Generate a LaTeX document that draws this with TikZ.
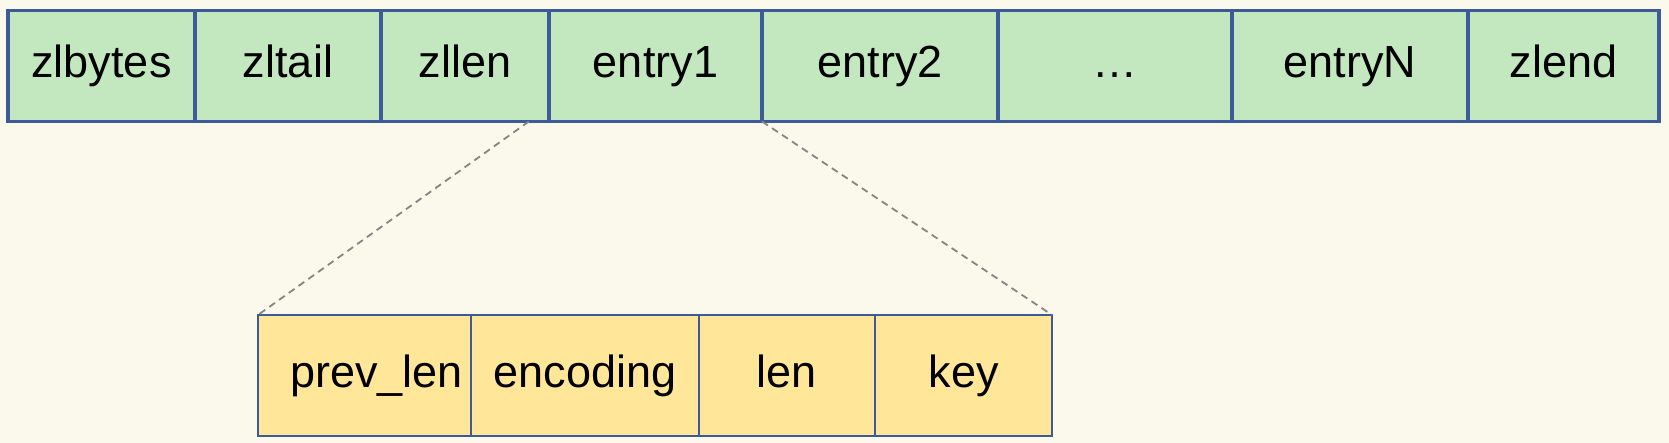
\documentclass[tikz,border=0pt]{standalone}
\usepackage{fontspec}
\setmainfont{Liberation Sans}
\usetikzlibrary{positioning,calc}
\definecolor{bgcream}{HTML}{FBF8EC}
\definecolor{cellgreen}{HTML}{C3E8BF}
\definecolor{cellyellow}{HTML}{FFE699}
\definecolor{cellblue}{HTML}{3D5A99}
\definecolor{zoomgray}{HTML}{858585}

\begin{document}
\begin{tikzpicture}[x=1pt,y=1pt,
every node/.style={rectangle,inner sep=0pt,outer sep=0pt,
  text height=16pt,text depth=4pt,font=\fontsize{22.5}{27}\selectfont},
cell/.style={draw=cellblue,line width=1.8pt,fill=cellgreen,minimum height=55.5pt},
subcell/.style={draw=cellblue,line width=0.9pt,fill=cellyellow,minimum height=60.5pt},
zoomline/.style={draw=zoomgray,line width=0.9pt,dash pattern=on 3.5pt off 2.5pt}]

\fill[bgcream] (0,0) rectangle (834.5,221.5);
\useasboundingbox (0,0) rectangle (834.5,221.5);

% ziplist header, entries and end marker
\node[cell,minimum width=93.5pt,anchor=north west] (zlbytes) at (4,216.25) {zlbytes};
\node[cell,minimum width=93pt,right=0pt of zlbytes] (zltail) {zltail};
\node[cell,minimum width=84pt,right=0pt of zltail] (zllen) {zllen};
\node[cell,minimum width=106.5pt,right=0pt of zllen] (entry1) {entry1};
\node[cell,minimum width=118pt,right=0pt of entry1] (entry2) {entry2};
\node[cell,minimum width=117pt,right=0pt of entry2] (dots) {…};
\node[cell,minimum width=118pt,right=0pt of dots] (entryN) {entryN};
\node[cell,minimum width=95.5pt,right=0pt of entryN] (zlend) {zlend};

% one entry in detail
\node[subcell,minimum width=106.5pt,anchor=north west] (prevlen) at (129,64) {\hspace*{12pt}prev\_len};
\node[subcell,minimum width=114pt,right=0pt of prevlen] (encoding) {encoding};
\node[subcell,minimum width=88pt,right=0pt of encoding] (len) {len};
\node[subcell,minimum width=88.5pt,right=0pt of len] (key) {key};

\coordinate (cut) at ($(zllen.south west)!0.88!(zllen.south east)$);
\draw[zoomline] (cut)--(prevlen.north west);
\draw[zoomline] (entry1.south east)--(key.north east);
\end{tikzpicture}
\end{document}
